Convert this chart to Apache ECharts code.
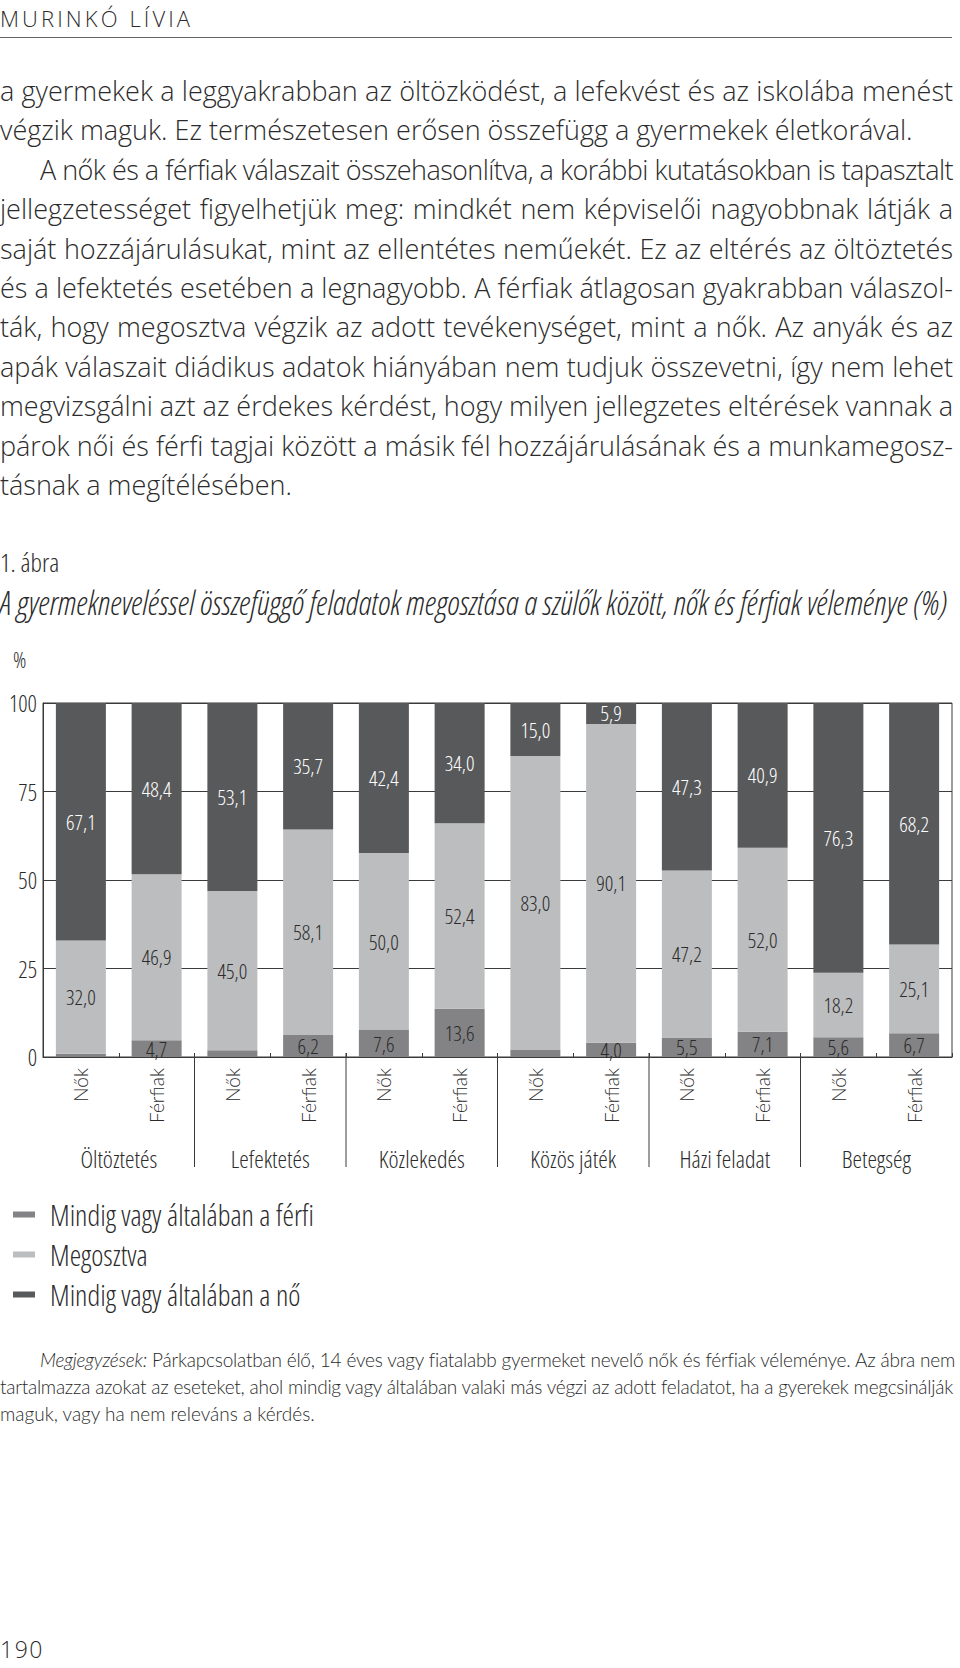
<!DOCTYPE html>
<html><head><meta charset="utf-8">
<script src="https://cdn.jsdelivr.net/npm/echarts@6/dist/echarts.min.js"></script>
<style>
html,body{margin:0;padding:0;background:#fff;}
body{width:960px;height:1668px;position:relative;overflow:hidden;color:#333;}
.body{font-family:"Open Sans",Lato,sans-serif;font-weight:300;color:#2b2b2b;}
.ln{position:absolute;left:0;width:953px;white-space:nowrap;}
.j{text-align:justify;text-align-last:justify;}
.cond{font-family:"Open Sans","DejaVu Sans Condensed",sans-serif;font-weight:300;font-stretch:75%;color:#2b2b2b;}
.note{font-family:Lato,"Open Sans",sans-serif;font-weight:300;color:#2b2b2b;}
#chart{position:absolute;left:0;top:620px;width:960px;height:720px;}
#chart svg text{font-stretch:75% !important;}
#chart svg text[style*="Lato"]{font-stretch:100% !important;}
</style></head>
<body>
<div class="body ln" style="top:5px;font-size:22px;line-height:26px;letter-spacing:3.1px;">MURINKÓ LÍVIA</div>
<div style="position:absolute;left:0;top:37px;width:952px;height:0;border-top:1.5px solid #666;"></div>

<div class="body" id="para" style="font-size:27px;">
<div class="ln j fit" style="top:71px;line-height:40px;">a gyermekek a leggyakrabban az öltözködést, a lefekvést és az iskolába menést</div>
<div class="ln fit" style="top:110.4px;line-height:40px;">végzik maguk. Ez természetesen erősen összefügg a gyermekek életkorával.</div>
<div class="ln j fit" style="top:149.8px;line-height:40px;padding-left:40px;width:913px;">A nők és a férfiak válaszait összehasonlítva, a korábbi kutatásokban is tapasztalt</div>
<div class="ln j fit" style="top:189.2px;line-height:40px;">jellegzetességet figyelhetjük meg: mindkét nem képviselői nagyobbnak látják a</div>
<div class="ln j fit" style="top:228.6px;line-height:40px;">saját hozzájárulásukat, mint az ellentétes neműekét. Ez az eltérés az öltöztetés</div>
<div class="ln j fit" style="top:268px;line-height:40px;">és a lefektetés esetében a legnagyobb. A férfiak átlagosan gyakrabban válaszol-</div>
<div class="ln j fit" style="top:307.4px;line-height:40px;">ták, hogy megosztva végzik az adott tevékenységet, mint a nők. Az anyák és az</div>
<div class="ln j fit" style="top:346.8px;line-height:40px;">apák válaszait diádikus adatok hiányában nem tudjuk összevetni, így nem lehet</div>
<div class="ln j fit" style="top:386.2px;line-height:40px;">megvizsgálni azt az érdekes kérdést, hogy milyen jellegzetes eltérések vannak a</div>
<div class="ln j fit" style="top:425.6px;line-height:40px;">párok női és férfi tagjai között a másik fél hozzájárulásának és a munkamegosz-</div>
<div class="ln fit" style="top:465px;line-height:40px;">tásnak a megítélésében.</div>
</div>

<div class="cond ln" style="top:546px;font-size:26px;line-height:32px;">1. ábra</div>
<div class="cond ln" id="title" style="top:587px;font-size:26px;line-height:32px;font-style:italic;width:auto;">A gyermekneveléssel összefüggő feladatok megosztása a szülők között, nők és férfiak véleménye (%)</div>

<div id="chart"></div>

<div class="note" style="font-size:19px;">
<div class="ln j fit" style="top:1346px;line-height:27px;padding-left:40px;width:915px;"><i>Megjegyzések:</i> Párkapcsolatban élő, 14 éves vagy fiatalabb gyermeket nevelő nők és férfiak véleménye. Az ábra nem</div>
<div class="ln j fit" style="top:1373px;line-height:27px;">tartalmazza azokat az eseteket, ahol mindig vagy általában valaki más végzi az adott feladatot, ha a gyerekek megcsinálják</div>
<div class="ln fit" style="top:1400px;line-height:27px;">maguk, vagy ha nem releváns a kérdés.</div>
</div>

<div class="body ln" style="top:1636px;font-size:23px;line-height:26px;letter-spacing:1.5px;">190</div>

<script>
// ---- data ----
const groups = ['Öltöztetés', 'Lefektetés', 'Közlekedés', 'Közös játék', 'Házi feladat', 'Betegség'];
const respondents = ['Nők', 'Férfiak'];
const seriesNames = ['Mindig vagy általában a férfi', 'Megosztva', 'Mindig vagy általában a nő'];
const men    = [0.9, 4.7, 1.9, 6.2, 7.6, 13.6, 2.0, 4.0, 5.5, 7.1, 5.6, 6.7];
const shared = [32.0, 46.9, 45.0, 58.1, 50.0, 52.4, 83.0, 90.1, 47.2, 52.0, 18.2, 25.1];
const women  = [67.1, 48.4, 53.1, 35.7, 42.4, 34.0, 15.0, 5.9, 47.3, 40.9, 76.3, 68.2];
const yTicks = [0, 25, 50, 75, 100];

// ---- text fitting ----
document.querySelectorAll('.fit').forEach(el => {
  el.style.letterSpacing = '0px';
  const over = el.scrollWidth - el.clientWidth;
  if (over > 0) {
    const n = el.textContent.length;
    el.style.letterSpacing = (-(over + 2) / n) + 'px';
  }
});
(function () {
  const t = document.getElementById('title');
  const w = t.getBoundingClientRect().width;
  const fs = parseFloat(getComputedStyle(t).fontSize);
  t.style.fontSize = (fs * 948 / w) + 'px';
})();

// ---- chart ----
const categories = groups.flatMap(() => respondents);
const boundaries = groups.slice(1).map((g, i) => (i + 1) * respondents.length);
const FONT = '"Open Sans","DejaVu Sans Condensed",sans-serif';
const fmt = v => v.toFixed(1).replace('.', ',');
const colors = ['#838385', '#bcbdbf', '#58595b'];
const labelColors = ['#2b2b2b', '#2b2b2b', '#ffffff'];
const dataSets = [men, shared, women];
const LINE = '#3a3a3a';

const chart = echarts.init(document.getElementById('chart'), null, {renderer: 'svg'});
chart.setOption({
  animation: false,
  textStyle: {fontFamily: FONT, fontWeight: 300},
  grid: {left: 43, right: 8, top: 83, height: 354, containLabel: false, outerBoundsMode: 'none',
         show: true, borderColor: LINE, borderWidth: 1},
  graphic: [{type: 'text', left: 13, top: 28, style: {text: '%', fontFamily: FONT, fontWeight: 300, fontSize: 22, fill: '#2b2b2b'}}],
  legend: {
    orient: 'vertical', left: 13, top: 580, padding: 0, itemGap: 11,
    itemWidth: 22, itemHeight: 6, icon: 'rect', selectedMode: false,
    data: seriesNames,
    textStyle: {fontSize: 29, color: '#2b2b2b', fontFamily: FONT, fontWeight: 300, padding: [0, 0, 0, 10]}
  },
  xAxis: [
    {type: 'category', data: categories, position: 'bottom',
     axisLine: {show: true, lineStyle: {color: LINE}},
     axisTick: {show: true, inside: true, length: 4, interval: 0, lineStyle: {color: LINE}},
     axisLabel: {rotate: 90, margin: 11, interval: 0, fontFamily: 'Lato', fontWeight: 300, fontSize: 19, color: '#2b2b2b'}},
    {type: 'category', data: groups, position: 'bottom', offset: 81,
     axisLine: {show: false}, axisTick: {show: false},
     axisLabel: {margin: 8, interval: 0, fontSize: 24, fontWeight: 300, color: '#2b2b2b'}},
    {type: 'value', min: 0, max: categories.length, position: 'bottom', show: false}
  ],
  yAxis: {
    type: 'value', min: yTicks[0], max: yTicks[yTicks.length - 1], interval: yTicks[1] - yTicks[0],
    axisLine: {show: true, lineStyle: {color: LINE}}, axisTick: {show: false},
    splitLine: {show: true, lineStyle: {color: LINE, width: 1}},
    axisLabel: {margin: 6, fontSize: 23, fontWeight: 300, color: '#2b2b2b', verticalAlign: 'middle', padding: [0, 0, 14, 0]}
  },
  series: dataSets.map((d, k) => ({
    name: seriesNames[k], type: 'bar', stack: 'total', data: d, barWidth: 50,
    xAxisIndex: 0, itemStyle: {color: colors[k]},
    label: {show: true, position: 'inside', fontSize: 21, fontWeight: 300, color: labelColors[k], fontFamily: FONT,
            formatter: p => (p.value < 3 ? '' : fmt(p.value))}
  })).concat([{
    type: 'custom', xAxisIndex: 2, yAxisIndex: 0, silent: true, clip: false, z: 5,
    data: boundaries.map(b => [b, 0]),
    renderItem: (params, api) => {
      const p = api.coord([api.value(0), 0]);
      return {type: 'line', shape: {x1: p[0], y1: p[1] - 4, x2: p[0], y2: p[1] + 110},
              style: {stroke: LINE, lineWidth: 1}};
    }
  }])
});
</script>
</body></html>
